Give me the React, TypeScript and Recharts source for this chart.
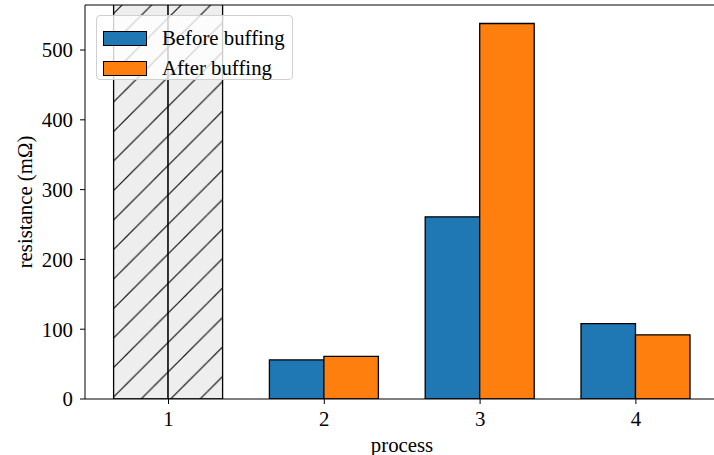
import React from "react";
import {
  BarChart,
  Bar,
  XAxis,
  YAxis,
  Cell,
  Legend,
  ReferenceLine,
  Label,
} from "recharts";

const processes = ["1", "2", "3", "4"];
// process 1 runs off the top of the axis (clipped, hatched)
const beforeBuffing = [600, 56, 261, 108];
const afterBuffing = [600, 61, 538, 92];
const yTicks = [0, 100, 200, 300, 400, 500];
const yMax = 564.5;

const seriesNames = ["Before buffing", "After buffing"];
const seriesColors = ["#1f77b4", "#ff7f0e"];

const data = processes.map((p, i) => ({
  process: p,
  before: beforeBuffing[i],
  after: afterBuffing[i],
}));

const FONT = "'Liberation Serif', 'Times New Roman', serif";
const FS = 20.8;

function LegendBox() {
  return (
    <div
      style={{
        width: 197,
        height: 65,
        boxSizing: "border-box",
        border: "1px solid #d0d0d0",
        borderRadius: 4,
        background: "rgba(255,255,255,0.8)",
        fontFamily: FONT,
        fontSize: FS,
        color: "#000",
        paddingTop: 7,
        paddingLeft: 6,
      }}
    >
      {seriesNames.map((name, i) => (
        <div key={name} style={{ display: "flex", alignItems: "center", height: 30 }}>
          <span
            style={{
              display: "inline-block",
              width: 44,
              height: 15,
              boxSizing: "border-box",
              background: seriesColors[i],
              border: "1.3px solid #000",
              marginRight: 15,
            }}
          />
          <span>{name}</span>
        </div>
      ))}
    </div>
  );
}

export default function App() {
  return (
    <div
      style={{
        position: "absolute",
        left: 0,
        top: 0,
        width: 714,
        height: 455,
        overflow: "hidden",
        background: "#fff",
      }}
    >
      <BarChart
        width={730}
        height={455}
        data={data}
        margin={{ top: 5, right: 10.6, bottom: 0, left: 0 }}
        barGap={0}
        barSize={54.5}
      >
        <defs>
          <pattern id="hatch" patternUnits="userSpaceOnUse" width={29.5} height={29.5}>
            <rect x={0} y={0} width={29.5} height={29.5} fill="#eeeeee" />
            <line x1={-1} y1={10.1} x2={10.1} y2={-1} stroke="#000" strokeWidth={1.1} />
            <line x1={8.1} y1={30.5} x2={30.5} y2={8.1} stroke="#000" strokeWidth={1.1} />
          </pattern>
        </defs>
        <XAxis
          dataKey="process"
          height={56}
          padding={{ left: 5.6, right: 5.6 }}
          tickSize={5}
          tickMargin={7}
          axisLine={{ stroke: "#000", strokeWidth: 1 }}
          tickLine={{ stroke: "#000", strokeWidth: 1 }}
          tick={{ fill: "#000", fontSize: FS, fontFamily: FONT }}
        >
          <Label
            content={() => (
              <text
                x={402}
                y={444}
                textAnchor="middle"
                dominantBaseline="central"
                fill="#000"
                fontSize={FS}
                fontFamily={FONT}
              >
                process
              </text>
            )}
          />
        </XAxis>
        <YAxis
          width={85}
          domain={[0, yMax]}
          allowDataOverflow
          ticks={yTicks}
          tickSize={5}
          tickMargin={7}
          axisLine={{ stroke: "#000", strokeWidth: 1 }}
          tickLine={{ stroke: "#000", strokeWidth: 1 }}
          tick={{ fill: "#000", fontSize: FS, fontFamily: FONT }}
        >
          <Label
            content={() => (
              <text
                x={24}
                y={202}
                textAnchor="middle"
                dominantBaseline="central"
                transform="rotate(-90 24 202)"
                fill="#000"
                fontSize={FS}
                fontFamily={FONT}
              >
                resistance (mΩ)
              </text>
            )}
          />
        </YAxis>
        <ReferenceLine y={yMax} stroke="#000" strokeWidth={1} />
        <Legend
          layout="horizontal"
          verticalAlign="middle"
          wrapperStyle={{ position: "absolute", left: 96, top: 15, width: 197, height: 65 }}
          content={() => <LegendBox />}
        />
        <Bar
          dataKey="before"
          name={seriesNames[0]}
          fill={seriesColors[0]}
          stroke="#000"
          strokeWidth={1.3}
          isAnimationActive={false}
        >
          {data.map((d, i) => (
            <Cell key={d.process} fill={i === 0 ? "url(#hatch)" : seriesColors[0]} />
          ))}
        </Bar>
        <Bar
          dataKey="after"
          name={seriesNames[1]}
          fill={seriesColors[1]}
          stroke="#000"
          strokeWidth={1.3}
          isAnimationActive={false}
        >
          {data.map((d, i) => (
            <Cell key={d.process} fill={i === 0 ? "url(#hatch)" : seriesColors[1]} />
          ))}
        </Bar>
      </BarChart>
    </div>
  );
}
